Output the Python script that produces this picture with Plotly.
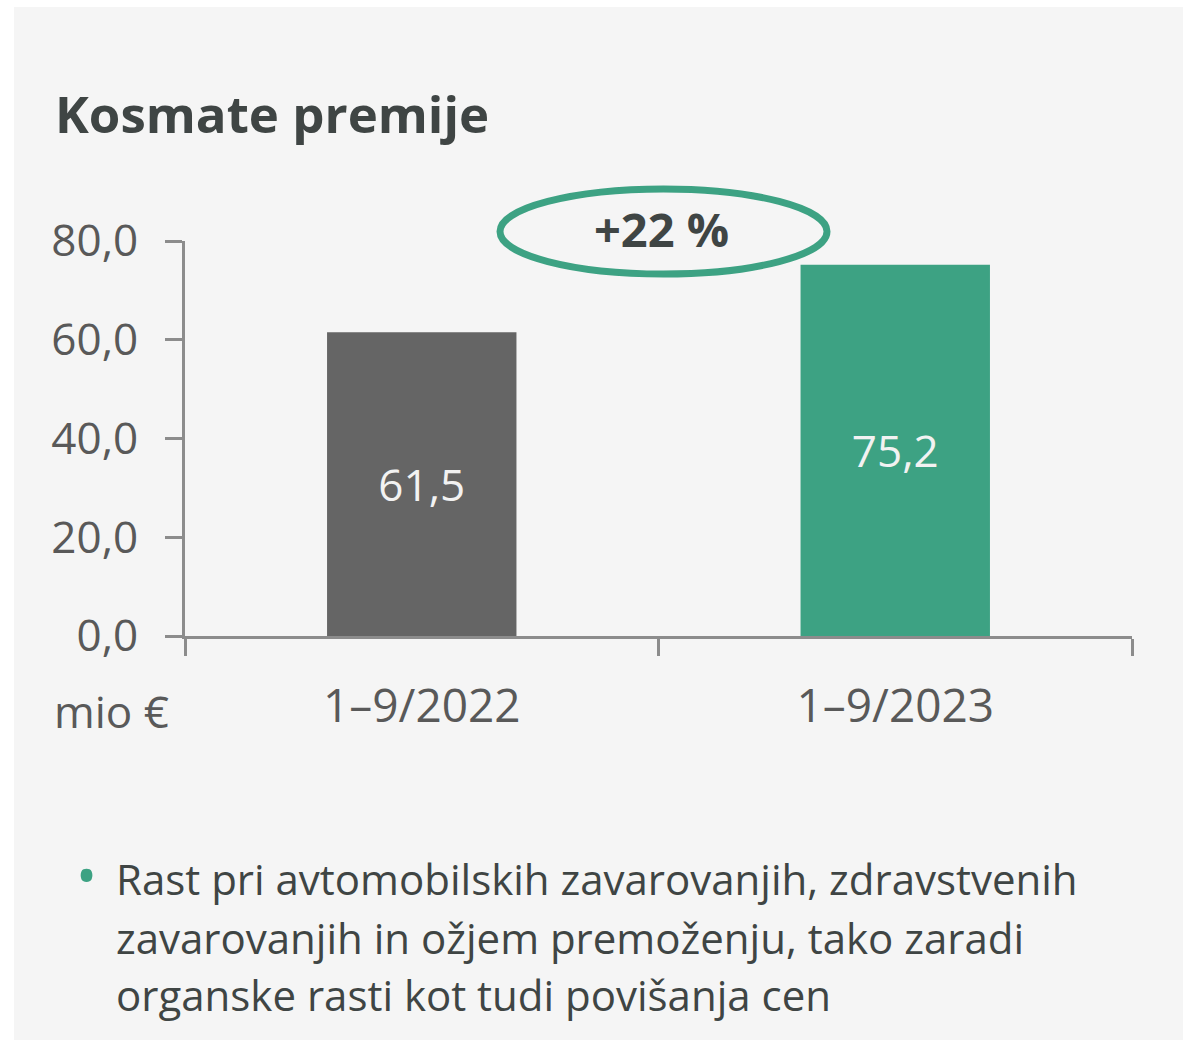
import plotly.graph_objects as go

# ---- data ----
categories = ["1–9/2022", "1–9/2023"]
values = [61.5, 75.2]
bar_colors = ["#656565", "#3da283"]
y_tickvals = [0, 20, 40, 60, 80]
y_ticktext = ["0,0", "20,0", "40,0", "60,0", "80,0"]
title_text = "Kosmate premije"
growth_text = "+22 %"
unit_text = "mio €"
bullet_lines = [
    "Rast pri avtomobilskih zavarovanjih, zdravstvenih",
    "zavarovanjih in ožjem premoženju, tako zaradi",
    "organske rasti kot tudi povišanja cen",
]

W, H = 1183, 1045
L, R, T, B = 185, 1132, 241, 636  # plot area pixels
pw, ph = R - L, B - T

def px(x):
    return (x - L) / pw

def py(y):
    return (B - y) / ph

FONT = "Open Sans"
TXT = "#595959"
DARK = "#3f4544"
GREEN = "#3da283"

fig = go.Figure()
fig.add_trace(go.Bar(
    x=categories, y=values,
    marker=dict(color=bar_colors, line=dict(width=0)),
    text=[f"{v:.1f}".replace(".", ",") for v in values],
    textposition="inside", insidetextanchor="middle",
    textfont=dict(family=FONT, size=44, color="#f2f2f2"),
    width=0.4,
    hoverinfo="skip",
))

fig.update_layout(
    width=W, height=H,
    margin=dict(l=L, r=W - R, t=T, b=H - B, pad=0),
    paper_bgcolor="white",
    plot_bgcolor="rgba(0,0,0,0)",
    showlegend=False,
    font=dict(family=FONT, color=TXT),
    xaxis=dict(
        type="category", range=[-0.5, 1.5],
        showline=True, linecolor="#8c8c8c", linewidth=3,
        ticks="outside", tickson="boundaries", ticklen=17, tickwidth=3, tickcolor="#8c8c8c",
        tickfont=dict(family=FONT, size=46, color=TXT),
        ticklabelstandoff=28,
        showgrid=False, zeroline=False,
    ),
    yaxis=dict(
        range=[0, 80],
        tickvals=y_tickvals, ticktext=y_ticktext,
        showline=True, linecolor="#8c8c8c", linewidth=3,
        ticks="outside", ticklen=17, tickwidth=3, tickcolor="#8c8c8c",
        tickfont=dict(family=FONT, size=44, color=TXT),
        ticklabelstandoff=18,
        showgrid=False, zeroline=False,
    ),
)

shapes = [
    dict(type="rect", xref="paper", yref="paper",
         x0=px(14), x1=px(1183), y0=py(1040), y1=py(7),
         fillcolor="#f5f5f5", line=dict(width=0), layer="below"),
    dict(type="circle", xref="paper", yref="paper",
         x0=px(500), x1=px(827), y0=py(274), y1=py(189),
         line=dict(color=GREEN, width=7), fillcolor="rgba(0,0,0,0)", layer="above"),
]
fig.update_layout(shapes=shapes)

ann = [
    dict(text=f"<b>{title_text}</b>", x=px(53), y=py(113), xanchor="left", yanchor="middle",
         font=dict(family=FONT, size=51, color=DARK)),
    dict(text=f"<b>{growth_text}</b>", x=px(661), y=py(229), xanchor="center", yanchor="middle",
         font=dict(family=FONT, size=47, color=DARK)),
    dict(text=unit_text, x=px(52), y=py(711), xanchor="left", yanchor="middle",
         font=dict(family=FONT, size=44, color=TXT)),
    dict(text="•", x=px(74), y=py(874), xanchor="left", yanchor="middle",
         font=dict(family=FONT, size=56, color=GREEN)),
]
line_y = [878, 937, 994]
for t, yy in zip(bullet_lines, line_y):
    ann.append(dict(text=t, x=px(114), y=py(yy), xanchor="left", yanchor="middle",
                    font=dict(family=FONT, size=42, color=DARK)))
for a in ann:
    a.update(xref="paper", yref="paper", showarrow=False)
fig.update_layout(annotations=ann)

fig.write_html(
    "out.html",
    config={"displayModeBar": False},
    post_script="document.body.style.margin='0';document.body.style.overflow='hidden';",
)
